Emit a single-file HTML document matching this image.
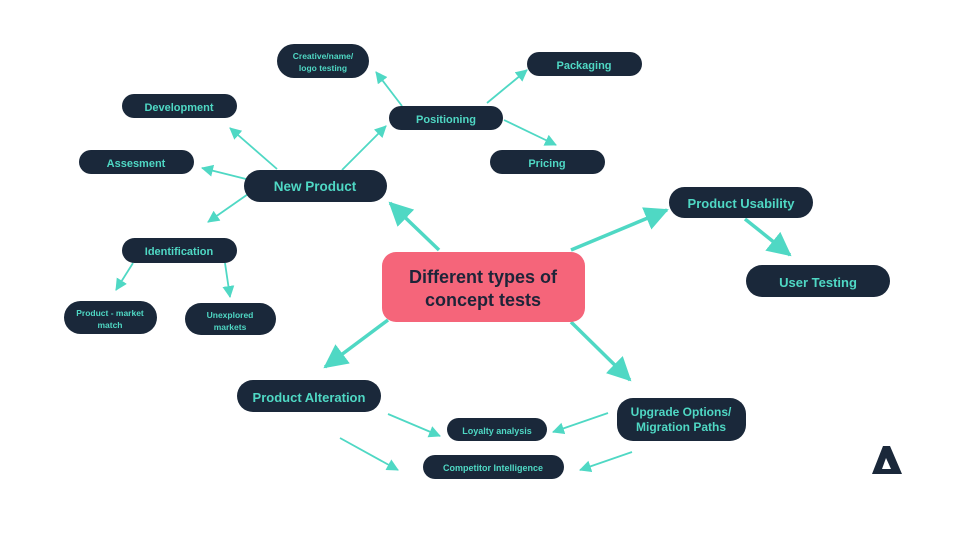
<!DOCTYPE html>
<html><head><meta charset="utf-8"><style>
html,body{margin:0;padding:0;background:#fff;}
svg{display:block;}
text{font-family:"Liberation Sans",sans-serif;font-weight:bold;fill:#4fd8c4;text-anchor:middle;}
.n{fill:#1a283a;}
</style></head><body>
<svg width="953" height="533" viewBox="0 0 953 533" xmlns="http://www.w3.org/2000/svg">
<defs>
<marker id="big" markerUnits="userSpaceOnUse" markerWidth="28" markerHeight="28" refX="22" refY="12" orient="auto"><path d="M0,0 L24,12 L0,24 Z" fill="#4fd8c4"/></marker>
<marker id="sm" markerUnits="userSpaceOnUse" markerWidth="14" markerHeight="14" refX="11" refY="6" orient="auto"><path d="M0,0 L12,6 L0,12 Z" fill="#4fd8c4"/></marker>
</defs>
<g stroke="#4fd8c4" fill="none">
<g stroke-width="3.5" marker-end="url(#big)">
<line x1="439" y1="250" x2="390" y2="203"/>
<line x1="571" y1="250" x2="667" y2="210"/>
<line x1="388" y1="320" x2="325" y2="367"/>
<line x1="571" y1="322" x2="630" y2="380"/>
<line x1="745" y1="219" x2="790" y2="255"/>
</g>
<g stroke-width="1.8" marker-end="url(#sm)">
<line x1="277" y1="169" x2="230" y2="128"/>
<line x1="342" y1="170" x2="386" y2="126"/>
<line x1="250" y1="180" x2="202" y2="168"/>
<line x1="251" y1="192" x2="208" y2="222"/>
<line x1="402" y1="106" x2="376" y2="72"/>
<line x1="487" y1="103" x2="527" y2="70"/>
<line x1="504" y1="120" x2="556" y2="145"/>
<line x1="133" y1="263" x2="116" y2="290"/>
<line x1="225" y1="263" x2="230" y2="297"/>
<line x1="388" y1="414" x2="440" y2="436"/>
<line x1="340" y1="438" x2="398" y2="470"/>
<line x1="608" y1="413" x2="553" y2="432"/>
<line x1="632" y1="452" x2="580" y2="470"/>
</g>
</g>
<rect class="n" x="277" y="44" width="92" height="34" rx="17"/>
<text x="323" y="59" font-size="8.5">Creative/name/</text><text x="323" y="71" font-size="8.5">logo testing</text>
<rect class="n" x="527" y="52" width="115" height="24" rx="12"/><text x="584" y="69" font-size="11">Packaging</text>
<rect class="n" x="122" y="94" width="115" height="24" rx="12"/><text x="179" y="111" font-size="11">Development</text>
<rect class="n" x="389" y="106" width="114" height="24" rx="12"/><text x="446" y="123" font-size="11">Positioning</text>
<rect class="n" x="79" y="150" width="115" height="24" rx="12"/><text x="136" y="167" font-size="11">Assesment</text>
<rect class="n" x="490" y="150" width="115" height="24" rx="12"/><text x="547" y="167" font-size="11">Pricing</text>
<rect class="n" x="244" y="170" width="143" height="32" rx="16"/><text x="315" y="191" font-size="13.5">New Product</text>
<rect class="n" x="669" y="187" width="144" height="31" rx="15.5"/><text x="741" y="208" font-size="13">Product Usability</text>
<rect class="n" x="122" y="238" width="115" height="25" rx="12.5"/><text x="179" y="255" font-size="11">Identification</text>
<rect x="382" y="252" width="203" height="70" rx="14" fill="#f5657a"/>
<text x="483" y="283" font-size="18" style="fill:#1e2438">Different types of</text>
<text x="483" y="306" font-size="18" style="fill:#1e2438">concept tests</text>
<rect class="n" x="746" y="265" width="144" height="32" rx="16"/><text x="818" y="287" font-size="13">User Testing</text>
<rect class="n" x="64" y="301" width="93" height="33" rx="16.5"/>
<text x="110" y="316" font-size="8.5">Product - market</text><text x="110" y="328" font-size="8.5">match</text>
<rect class="n" x="185" y="303" width="91" height="32" rx="16"/>
<text x="230" y="318" font-size="8.5">Unexplored</text><text x="230" y="330" font-size="8.5">markets</text>
<rect class="n" x="237" y="380" width="144" height="32" rx="16"/><text x="309" y="402" font-size="13">Product Alteration</text>
<rect class="n" x="617" y="398" width="129" height="43" rx="16"/>
<text x="681" y="416" font-size="12">Upgrade Options/</text><text x="681" y="431" font-size="12">Migration Paths</text>
<rect class="n" x="447" y="418" width="100" height="23" rx="11.5"/><text x="497" y="434" font-size="9">Loyalty analysis</text>
<rect class="n" x="423" y="455" width="141" height="24" rx="12"/><text x="493" y="471" font-size="9">Competitor Intelligence</text>
<path d="M883,446 L890,446 L902,474 L872,474 Z M886,458 L882,469 L891,469 Z" fill="#1a283a" fill-rule="evenodd"/>
</svg>
</body></html>
